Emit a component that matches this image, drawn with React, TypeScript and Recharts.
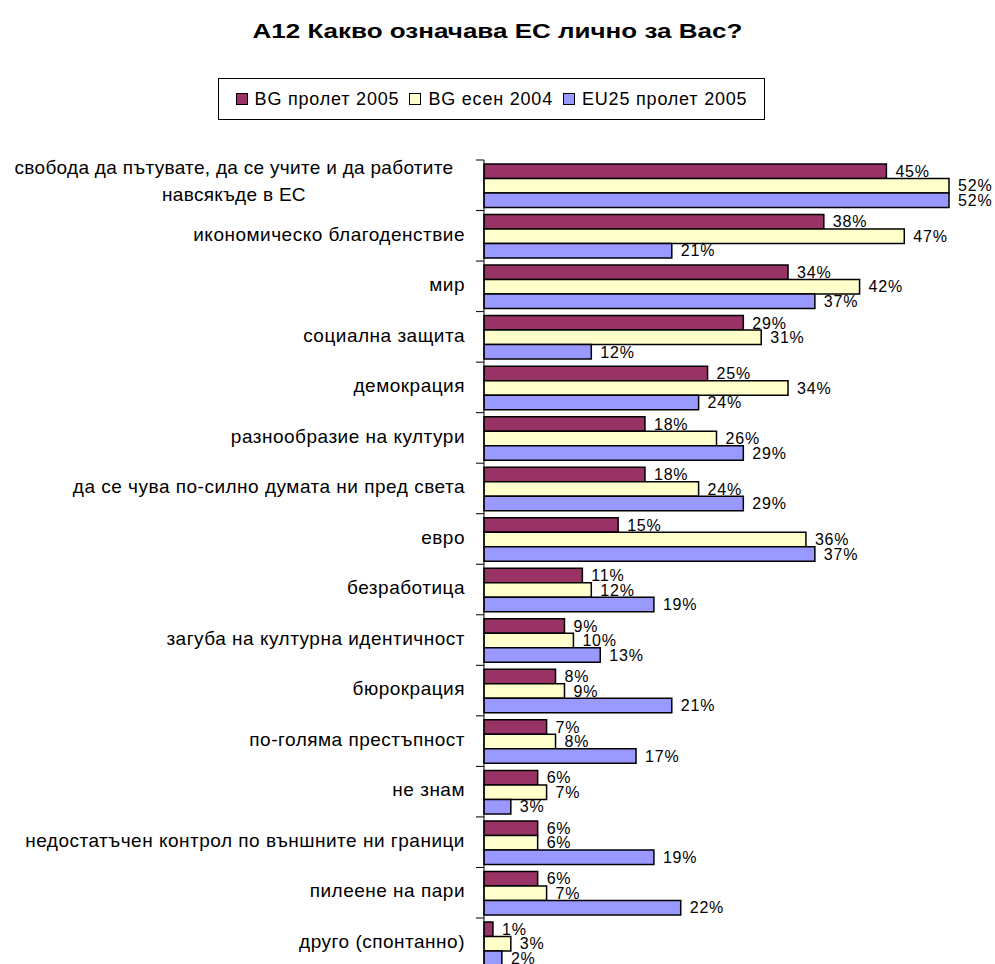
import { BarChart, Bar, XAxis, YAxis, LabelList } from "recharts";

const categories = [
  "свобода да пътувате, да се учите и да работите\nнавсякъде в ЕС",
  "икономическо благоденствие",
  "мир",
  "социална защита",
  "демокрация",
  "разнообразие на култури",
  "да се чува по-силно думата ни пред света",
  "евро",
  "безработица",
  "загуба на културна идентичност",
  "бюрокрация",
  "по-голяма престъпност",
  "не знам",
  "недостатъчен контрол по външните ни граници",
  "пилеене на пари",
  "друго (спонтанно)",
];

const bgSpring2005 = [45, 38, 34, 29, 25, 18, 18, 15, 11, 9, 8, 7, 6, 6, 6, 1];
const bgAutumn2004 = [52, 47, 42, 31, 34, 26, 24, 36, 12, 10, 9, 8, 7, 6, 7, 3];
const eu25Spring2005 = [52, 21, 37, 12, 24, 29, 29, 37, 19, 13, 21, 17, 3, 19, 22, 2];

const seriesNames = ["BG пролет 2005", "BG есен 2004", "EU25 пролет 2005"];
const seriesColors = ["#993366", "#FFFFCC", "#9999FF"];

const data = categories.map((name, i) => ({
  name,
  a: bgSpring2005[i],
  b: bgAutumn2004[i],
  c: eu25Spring2005[i],
}));

const FONT = "Arial, 'Liberation Sans', sans-serif";
const W = 995;
const H = 990;
const MARGIN = { top: 160, right: 46, bottom: 21.5, left: 8 };
const AXIS_W = 476;
const BAND = (H - MARGIN.top - MARGIN.bottom) / categories.length;

function CategoryTick(props: any) {
  const { x, y, payload } = props;
  const lines = String(payload.value).split("\n");
  return (
    <g>
      <line x1={x - 8} x2={x} y1={y - BAND / 2} y2={y - BAND / 2} stroke="#000" strokeWidth={1} />
      {lines.length === 1 ? (
        <text
          x={x - 19}
          y={y}
          dy="0.25em"
          textAnchor="end"
          fontSize={19}
          letterSpacing={0.5}
          fontFamily={FONT}
          fill="#000"
        >
          {lines[0]}
        </text>
      ) : (
        <text x={x - 250} y={y} textAnchor="middle" fontSize={19} letterSpacing={0.3} fontFamily={FONT} fill="#000">
          {lines.map((l, i) => (
            <tspan key={i} x={x - 250} dy={i === 0 ? "-0.57em" : "1.39em"}>
              {l}
            </tspan>
          ))}
        </text>
      )}
    </g>
  );
}

const pct = (v: any) => `${v}%`;

export default function App() {
  const keys = ["a", "b", "c"];
  return (
    <div style={{ position: "absolute", left: 0, top: 0, width: W, height: 964, overflow: "hidden", background: "#fff", fontFamily: FONT }}>
      <div
        style={{
          position: "absolute",
          top: 19,
          left: 0,
          width: W,
          textAlign: "center",
          fontSize: 20,
          lineHeight: "24px",
          fontWeight: "bold",
          color: "#000",
        }}
      >
        <span style={{ display: "inline-block", transform: "scaleX(1.3)" }}>
          А12 Какво означава ЕС лично за Вас?
        </span>
      </div>
      <div
        style={{
          position: "absolute",
          top: 78,
          left: 218,
          width: 547,
          height: 42,
          boxSizing: "border-box",
          border: "1px solid #000",
          display: "flex",
          alignItems: "center",
          justifyContent: "center",
          fontSize: 18,
          letterSpacing: 0.8,
          color: "#000",
        }}
      >
        {seriesNames.map((n, i) => (
          <span key={n} style={{ display: "flex", alignItems: "center", marginLeft: i === 0 ? 0 : 10 }}>
            <span
              style={{
                display: "inline-block",
                width: 10,
                height: 10,
                background: seriesColors[i],
                border: "1.5px solid #000",
                marginRight: 7,
              }}
            />
            {n}
          </span>
        ))}
      </div>
      <div style={{ position: "absolute", left: 0, top: 0 }}>
        <BarChart
          width={W}
          height={H}
          data={data}
          layout="vertical"
          margin={MARGIN}
          barGap={0}
        >
          <XAxis type="number" domain={[0, 52]} hide />
          <YAxis
            type="category"
            dataKey="name"
            width={AXIS_W}
            axisLine={{ stroke: "#000", strokeWidth: 1 }}
            tickLine={false}
            tickSize={0}
            tickMargin={0}
            interval={0}
            tick={<CategoryTick />}
          />
          {keys.map((k, i) => (
            <Bar
              key={k}
              dataKey={k}
              name={seriesNames[i]}
              fill={seriesColors[i]}
              stroke="#000"
              strokeWidth={1.5}
              barSize={14.5}
              isAnimationActive={false}
            >
              <LabelList
                dataKey={k}
                position="right"
                offset={9}
                formatter={pct}
                fontSize={16}
                letterSpacing={0.8}
                fontFamily={FONT}
                fill="#000"
              />
            </Bar>
          ))}
        </BarChart>
      </div>
    </div>
  );
}
